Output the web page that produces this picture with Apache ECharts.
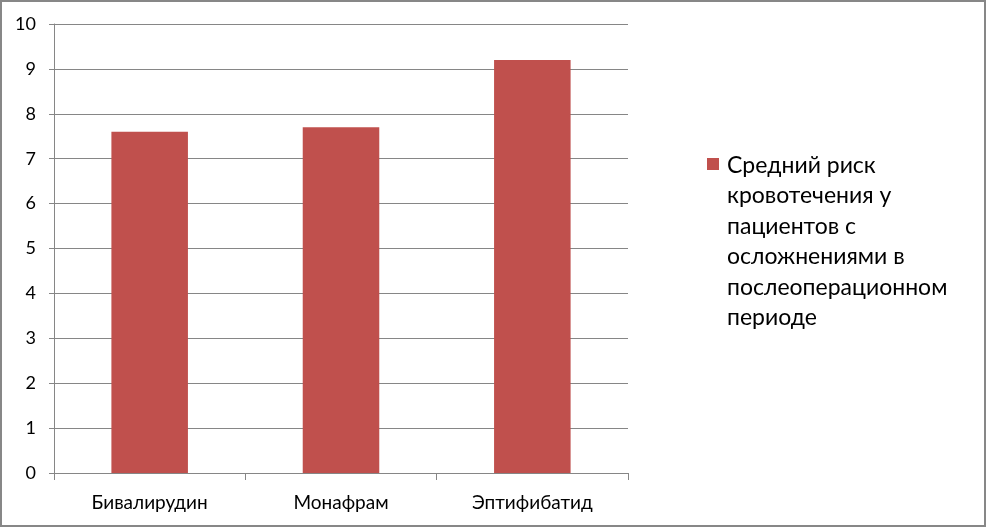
<!DOCTYPE html>
<html>
<head>
<meta charset="utf-8">
<script src="https://cdn.jsdelivr.net/npm/echarts@6/dist/echarts.min.js"></script>
<style>
html,body{margin:0;padding:0;background:#fff;}
#wrap{width:986px;height:527px;box-sizing:border-box;border:2px solid #878787;position:relative;}
#chart{position:absolute;left:-2px;top:-2px;width:986px;height:527px;}
</style>
</head>
<body>
<div id="wrap"><div id="chart"></div></div>
<script>
const categories = ['Бивалирудин', 'Монафрам', 'Эптифибатид'];
const seriesName = 'Средний риск\nкровотечения у\nпациентов с\nосложнениями в\nпослеоперационном\nпериоде';
const values = [7.6, 7.7, 9.2];
const yTicks = {min: 0, max: 10, interval: 1};

const FONT = 'Lato';
const chart = echarts.init(document.getElementById('chart'), null, {renderer: 'canvas'});
chart.setOption({
  animation: false,
  backgroundColor: 'transparent',
  grid: {left: 54, top: 24, right: 358, bottom: 54, containLabel: false},
  legend: {
    show: true,
    left: 702,
    top: 145,
    orient: 'vertical',
    icon: 'path://M0,0h0.01v0.01h-0.01z M0,8h12v12h-12z M14.99,182.99h0.01v0.01h-0.01z',
    itemWidth: 15,
    itemHeight: 183,
    itemGap: 8,
    textStyle: {fontFamily: FONT, fontSize: 23, color: '#000', lineHeight: 30.5},
    data: [seriesName]
  },
  xAxis: {
    type: 'category',
    data: categories,
    axisLine: {lineStyle: {color: '#868686', width: 1}},
    axisTick: {show: true, length: 7, lineStyle: {color: '#868686'}},
    axisLabel: {fontFamily: FONT, fontSize: 19, color: '#000', margin: 20}
  },
  yAxis: {
    type: 'value',
    min: yTicks.min, max: yTicks.max, interval: yTicks.interval,
    axisLine: {show: true, lineStyle: {color: '#868686', width: 1}},
    axisTick: {show: true, length: 5, lineStyle: {color: '#868686'}},
    splitLine: {show: true, lineStyle: {color: '#868686', width: 1}},
    axisLabel: {fontFamily: FONT, fontSize: 18, color: '#000', margin: 18}
  },
  series: [{
    name: seriesName,
    type: 'bar',
    data: values,
    barCategoryGap: '60%',
    itemStyle: {color: '#C0504D'}
  }]
});
</script>
</body>
</html>
